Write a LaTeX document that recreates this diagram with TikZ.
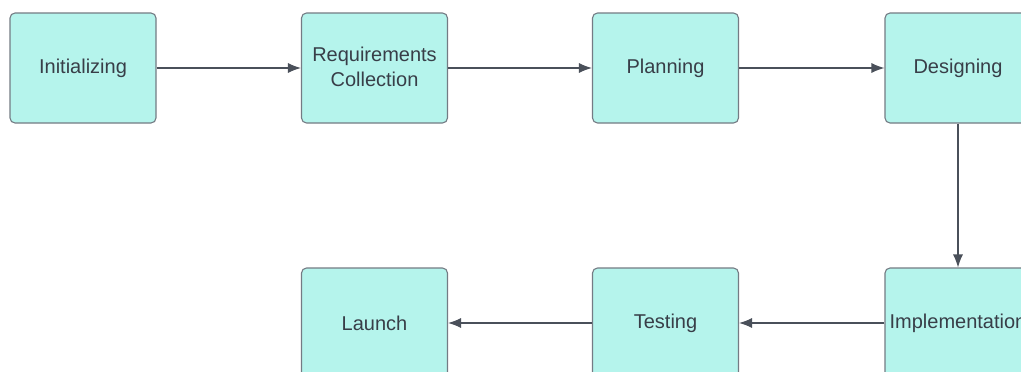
\documentclass[tikz,border=0pt]{standalone}
\usepackage{fontspec}
\setmainfont{Liberation Sans}
\usetikzlibrary{arrows.meta}
\definecolor{boxfill}{HTML}{B5F4EC}
\definecolor{boxline}{HTML}{747B84}
\definecolor{txt}{HTML}{383E48}
\definecolor{arr}{HTML}{4A505A}
\begin{document}
\begin{tikzpicture}[x=1pt,y=-1pt,
  stage/.style={draw=boxline, line width=1.1pt, fill=boxfill, rounded corners=5pt,
    minimum width=146pt, minimum height=110pt, inner sep=0pt, align=center,
    text=txt, font=\fontsize{20}{25}\selectfont},
  flow/.style={draw=arr, line width=1.1pt, -{Latex[length=13pt,width=10pt]}}]
\useasboundingbox (0,0) rectangle (1021,372);
\clip (0,0) rectangle (1021,372);
\fill[white] (0,0) rectangle (1021,372);
\node[stage] (init) at (83,68) {Initializing};
\node[stage] (req) at (374.5,68) {\raisebox{1.5pt}{Requirements}\\\raisebox{1.5pt}{Collection}};
\node[stage] (plan) at (665.5,68) {Planning};
\node[stage] (des) at (958,68) {Designing};
\node[stage] (impl) at (958,323) {Implementation};
\node[stage] (test) at (665.5,323) {Testing};
\node[stage] (launch) at (374.5,323) {Launch};
\draw[flow] (init) -- (req);
\draw[flow] (req) -- (plan);
\draw[flow] (plan) -- (des);
\draw[flow] (des) -- (impl);
\draw[flow] (impl) -- (test);
\draw[flow] (test) -- (launch);
\end{tikzpicture}
\end{document}
